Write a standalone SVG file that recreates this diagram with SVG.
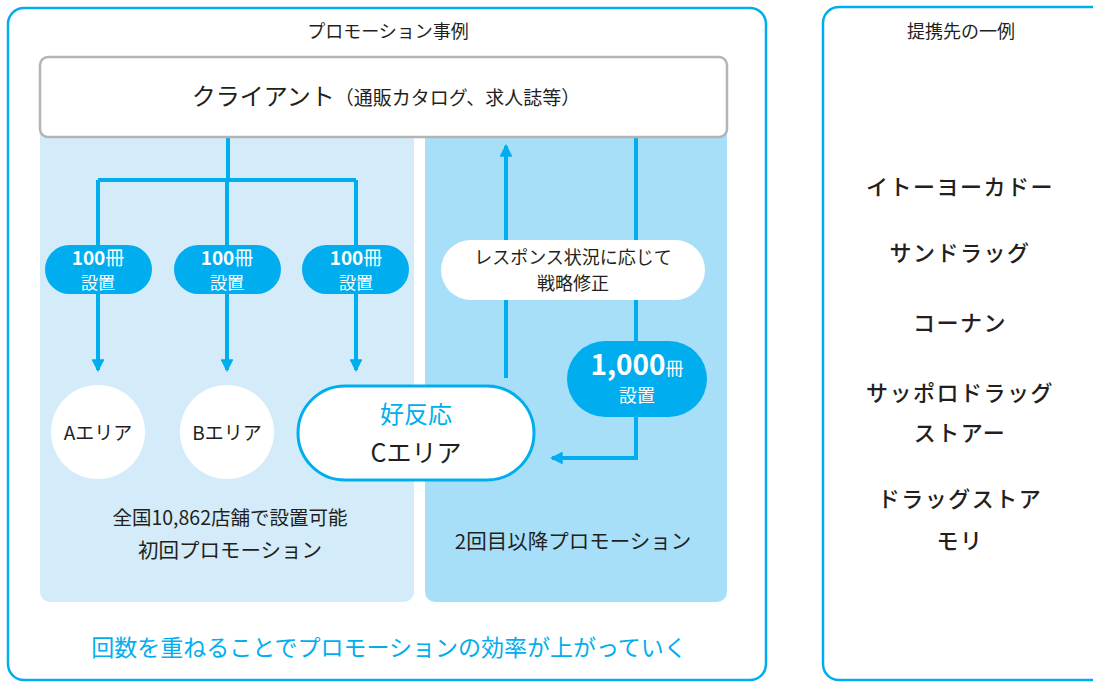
<svg xmlns="http://www.w3.org/2000/svg" width="1093" height="682" viewBox="0 0 1093 682">
<style>
text{font-family:"Noto Sans CJK JP","Noto Sans",sans-serif;fill:#231f20;text-anchor:middle}
.frame{fill:#fff;stroke:#00aeef;stroke-width:2.5}
.conn{fill:none;stroke:#00aeef;stroke-width:4}
.pill{fill:#00aeef}
.pt{fill:#fff}
.store{font-size:22px;font-weight:500;letter-spacing:1.5px}
</style>
<defs>
<marker id="ah" viewBox="0 0 12 12" refX="10" refY="6" markerWidth="3.2" markerHeight="3.2" orient="auto" markerUnits="strokeWidth">
<path d="M0,0 L12,6 L0,12 Z" fill="#00aeef"/>
</marker>
</defs>
<g id="frame-left">
<rect class="frame" x="8" y="8" width="758" height="672" rx="16"/>
<text x="388" y="38" font-size="18">プロモーション事例</text>
</g>
<g id="frame-right">
<rect class="frame" x="823" y="7" width="290" height="673" rx="16"/>
<text x="961" y="38" font-size="18">提携先の一例</text>
<text class="store" x="960" y="195">イトーヨーカドー</text>
<text class="store" x="960" y="261">サンドラッグ</text>
<text class="store" x="960" y="331">コーナン</text>
<text class="store" x="960" y="401">サッポロドラッグ</text>
<text class="store" x="960" y="441">ストアー</text>
<text class="store" x="960" y="507">ドラッグストア</text>
<text class="store" x="960" y="549">モリ</text>
</g>
<g id="panel-first">
<rect x="40" y="120" width="374" height="482" rx="10" fill="#d4ecfa"/>
<text x="230" y="525" font-size="19.5">全国10,862店舗で設置可能</text>
<text x="230" y="558" font-size="20.5">初回プロモーション</text>
</g>
<g id="panel-second">
<rect x="425" y="120" width="302" height="482" rx="10" fill="#a8dff8"/>
<text x="573" y="549" font-size="20.5">2回目以降プロモーション</text>
</g>
<g id="connectors">
<path class="conn" d="M228,137 V180 M98,180 H356"/>
<path class="conn" d="M98,180 V370" marker-end="url(#ah)"/>
<path class="conn" d="M227,180 V370" marker-end="url(#ah)"/>
<path class="conn" d="M356,180 V370" marker-end="url(#ah)"/>
<path class="conn" d="M506,378 V146" marker-end="url(#ah)"/>
<path class="conn" d="M636,137 V458 H552" marker-end="url(#ah)"/>
</g>
<g id="client">
<rect x="40" y="57" width="687" height="80" rx="8" fill="#fff" stroke="#b4b4b4" stroke-width="2.5"/>
<text x="386" y="105"><tspan font-size="24">クライアント</tspan><tspan font-size="19">（通販カタログ、求人誌等）</tspan></text>
</g>
<g id="pill-a">
<rect class="pill" x="45" y="245" width="107" height="49" rx="24.5"/>
<text class="pt" x="98" y="265" font-size="19"><tspan font-weight="bold">100</tspan>冊</text>
<text class="pt" x="98" y="289" font-size="17">設置</text>
</g>
<g id="pill-b">
<rect class="pill" x="174" y="245" width="107" height="49" rx="24.5"/>
<text class="pt" x="227" y="265" font-size="19"><tspan font-weight="bold">100</tspan>冊</text>
<text class="pt" x="227" y="289" font-size="17">設置</text>
</g>
<g id="pill-c">
<rect class="pill" x="302" y="245" width="107" height="49" rx="24.5"/>
<text class="pt" x="356" y="265" font-size="19"><tspan font-weight="bold">100</tspan>冊</text>
<text class="pt" x="356" y="289" font-size="17">設置</text>
</g>
<g id="area-a">
<circle cx="98" cy="432" r="47" fill="#fff"/>
<text x="98" y="440" font-size="19">Aエリア</text>
</g>
<g id="area-b">
<circle cx="227" cy="432" r="47" fill="#fff"/>
<text x="227" y="440" font-size="19">Bエリア</text>
</g>
<g id="area-c">
<rect x="298" y="386" width="236" height="94" rx="47" fill="#fff" stroke="#00aeef" stroke-width="3"/>
<text x="416" y="423" font-size="24" style="fill:#00aeef">好反応</text>
<text x="416" y="462" font-size="25">Cエリア</text>
</g>
<g id="strategy">
<rect x="441" y="240" width="264" height="60" rx="30" fill="#fff"/>
<text x="573" y="264" font-size="18">レスポンス状況に応じて</text>
<text x="573" y="290" font-size="18">戦略修正</text>
</g>
<g id="pill-1000">
<rect class="pill" x="567" y="341" width="140" height="76" rx="38"/>
<text class="pt" x="637" y="375"><tspan font-size="28" font-weight="bold">1,000</tspan><tspan font-size="18">冊</tspan></text>
<text class="pt" x="637" y="402" font-size="18">設置</text>
</g>
<g id="footer">
<text x="389" y="656" font-size="23" style="fill:#00aeef">回数を重ねることでプロモーションの効率が上がっていく</text>
</g>
</svg>
